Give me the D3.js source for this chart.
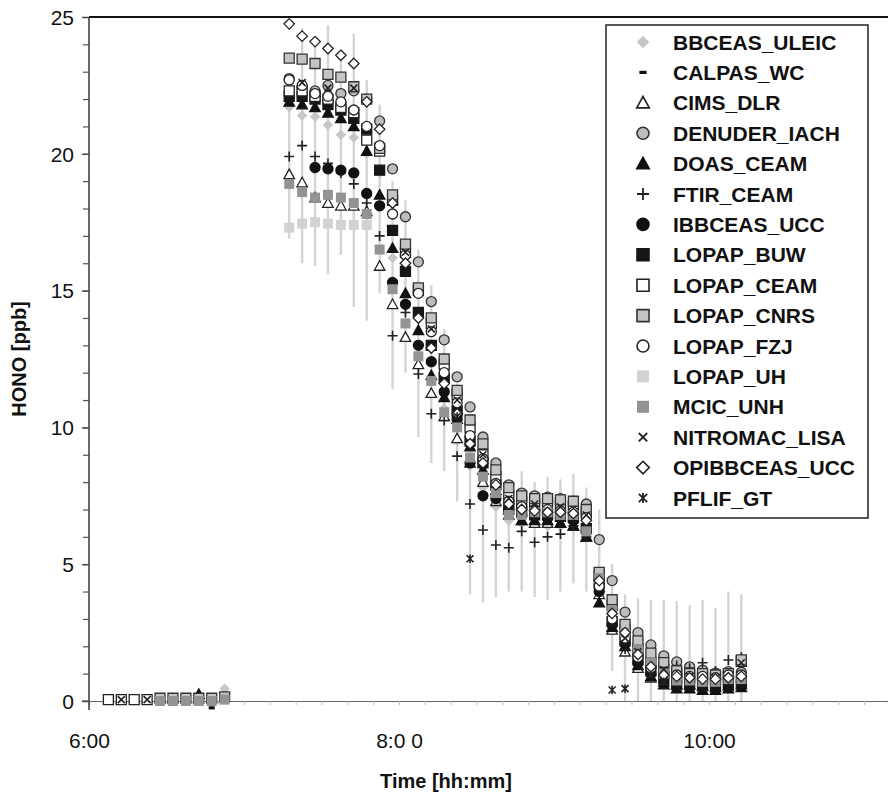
<!DOCTYPE html>
<html><head><meta charset="utf-8">
<script src="https://cdn.jsdelivr.net/npm/d3@7"></script>
<style>body{margin:0;background:#fff}svg{display:block}text{font-family:"Liberation Sans",Arial,Helvetica,sans-serif}</style>
</head><body><svg id="c" width="888" height="797"></svg>
<script>
// ---------- DATA ----------
const times = ["6:07:30","6:12:30","6:17:30","6:22:30","6:27:30","6:32:30","6:37:30","6:42:30","6:47:30","6:52:30",
"7:17:30","7:22:30","7:27:30","7:32:30","7:37:30","7:42:30","7:47:30","7:52:30","7:57:30","8:02:30",
"8:07:30","8:12:30","8:17:30","8:22:30","8:27:30","8:32:30","8:37:30","8:42:30","8:47:30","8:52:30",
"8:57:30","9:02:30","9:07:30","9:12:30","9:17:30","9:22:30","9:27:30","9:32:30","9:37:30","9:42:30",
"9:47:30","9:52:30","9:57:30","10:02:30","10:07:30","10:12:30"];
const N = null;
const seriesNames = ["BBCEAS_ULEIC","CALPAS_WC","CIMS_DLR","DENUDER_IACH","DOAS_CEAM","FTIR_CEAM","IBBCEAS_UCC","LOPAP_BUW","LOPAP_CEAM","LOPAP_CNRS","LOPAP_FZJ","LOPAP_UH","MCIC_UNH","NITROMAC_LISA","OPIBBCEAS_UCC","PFLIF_GT"];
const BBCEAS_ULEIC = [N,N,N,N,N,N,N,N,N,0.45,
 21.7,21.4,21.35,21.05,20.7,20.6,20.0,19.3,16.2,14.8,13.0,11.8,10.7,9.5,8.6,7.8,7.1,6.6,6.5,6.5,6.4,6.4,6.4,6.0,N,N,N,N,N,N,N,N,N,N,N,N];
const CALPAS_WC = [N,N,N,N,N,N,N,N,-0.25,N,
 N,N,N,N,N,N,N,N,N,N,N,N,N,N,N,N,N,N,N,N,N,N,N,N,4.1,N,2.4,N,0.75,N,0.7,N,0.5,N,0.9,N];
const CIMS_DLR = [N,N,N,N,N,N,N,N,N,N,
 19.25,18.95,18.4,18.2,18.1,18.1,17.9,15.9,14.5,13.3,12.3,11.25,10.4,9.6,8.7,8.0,7.3,6.8,6.6,6.5,6.5,6.5,6.4,6.0,3.9,2.6,1.8,1.2,0.85,0.7,0.6,0.6,0.55,0.5,0.55,0.6];
const DENUDER_IACH = [N,N,N,N,N,N,N,N,N,N,
 22.75,22.4,22.3,22.5,22.2,22.3,22.0,21.2,19.45,17.7,16.05,14.6,13.2,11.85,10.75,9.65,8.7,7.9,7.6,7.5,7.45,7.4,7.3,7.2,5.9,4.4,3.25,2.5,2.05,1.65,1.43,1.25,1.13,1.02,1.07,1.05];
const DOAS_CEAM = [N,N,N,N,N,N,N,0.25,N,N,
 21.9,21.8,21.7,21.5,21.3,21.0,20.1,18.5,16.55,14.9,13.55,11.9,11.1,10.3,9.3,8.45,7.7,7.0,6.6,6.6,6.6,6.5,6.4,6.0,3.6,2.7,2.0,1.3,0.9,0.6,0.45,0.45,0.4,0.4,0.45,0.5];
const FTIR_CEAM = [N,N,N,N,N,N,N,N,N,N,
 19.9,20.3,19.9,19.65,19.3,18.9,18.2,17.0,13.35,14.2,11.95,10.5,10.25,8.95,7.2,6.25,5.7,5.6,6.2,5.8,6.0,6.1,6.4,6.0,N,N,1.9,1.5,1.6,1.4,1.3,1.2,1.4,1.1,1.5,1.6];
const FTIR_low = [N,N,N,N,N,N,N,N,N,N,
 16.9,16.0,15.9,15.6,16.3,14.4,13.9,14.9,11.4,12.0,9.65,8.7,8.4,7.3,3.9,3.6,3.8,4.0,4.0,3.8,3.7,4.0,4.3,4.0,3.5,1.1,0,0,0,0,0,0,0,0,0,0];
const FTIR_high = [N,N,N,N,N,N,N,N,N,N,
 22.9,24.6,24.0,24.7,23.4,24.4,22.7,21.8,19.0,18.3,16.5,15.2,13.6,11.6,10.5,9.6,8.8,8.0,8.4,8.0,8.2,8.1,8.3,7.8,7.0,5.0,3.9,3.75,3.7,3.7,3.65,3.5,3.7,3.4,4.0,3.9];
const IBBCEAS_UCC = [N,N,N,N,N,N,N,N,N,N,
 N,N,19.5,19.45,19.4,19.3,18.55,18.1,15.3,14.5,13.0,12.4,11.3,10.3,8.7,7.5,7.4,7.0,6.8,6.8,6.7,6.7,6.6,6.2,4.0,2.8,2.1,1.4,1.0,0.85,0.7,0.7,0.65,0.6,0.6,0.7];
const LOPAP_BUW = [N,N,N,N,N,N,N,N,N,N,
 22.1,22.1,22.0,21.8,21.6,21.3,20.9,19.4,17.2,15.7,14.2,13.0,11.8,10.6,9.5,8.7,7.9,7.1,6.9,6.8,6.8,6.75,6.7,6.3,4.3,2.9,2.2,1.5,1.1,0.8,0.6,0.6,0.55,0.55,0.6,0.65];
const LOPAP_CEAM = [0.05,0.05,0.05,0.05,N,N,N,N,N,N,
 22.3,22.3,22.1,22.0,21.7,21.5,20.5,20.1,18.3,16.4,15.0,13.8,12.3,11.2,10.0,9.0,8.2,7.5,7.3,7.2,7.2,7.15,7.1,6.9,4.6,3.5,2.6,1.9,1.4,1.15,1.0,0.95,0.9,0.85,0.9,1.45];
const LOPAP_CNRS = [N,N,N,N,0.1,0.1,0.1,0.1,0.1,0.15,
 23.5,23.46,23.3,22.9,22.8,22.45,22.0,20.2,18.5,16.7,15.1,14.0,12.5,11.35,10.27,9.4,8.45,7.8,7.5,7.4,7.4,7.35,7.3,7.0,4.7,3.7,2.8,2.2,1.75,1.4,1.1,1.0,1.0,0.95,1.0,1.5];
const LOPAP_FZJ = [N,N,N,N,N,N,N,N,N,N,
 22.7,22.5,22.2,22.1,21.9,21.6,21.0,20.3,17.8,16.3,14.9,13.5,12.0,10.9,9.7,8.85,7.95,7.3,7.1,7.0,7.0,6.95,6.9,6.7,4.2,3.0,2.3,1.6,1.2,1.05,0.95,0.9,0.9,0.85,0.95,0.95];
const LOPAP_UH = [N,N,N,N,N,N,N,N,N,N,
 17.3,17.45,17.5,17.45,17.4,17.4,17.4,N,N,N,N,N,N,N,N,N,N,N,N,N,N,N,N,N,N,N,N,N,N,N,N,N,N,N,N,N];
const MCIC_UNH = [N,N,N,N,0.0,0.0,0.0,0.0,0.0,0.05,
 18.9,18.6,18.4,18.5,18.4,18.2,17.8,16.5,15.05,13.8,12.6,11.7,10.55,10.0,8.9,8.2,7.6,6.8,6.8,6.9,6.9,6.8,6.8,6.2,4.5,3.3,2.5,1.9,1.4,1.0,0.75,0.75,0.7,0.7,0.8,0.8];
const NITROMAC_LISA = [N,0.05,N,0.05,N,N,N,N,N,N,
 N,22.6,N,22.4,N,22.4,N,N,N,16.4,N,13.6,N,11.0,N,9.0,N,7.4,N,7.2,N,7.1,N,6.8,N,N,2.3,1.8,N,1.15,N,0.9,N,0.85,N,1.4];
const OPIBBCEAS_UCC = [N,N,N,N,N,N,N,N,N,N,
 24.75,24.3,24.1,23.85,23.6,23.3,21.9,20.9,18.2,16.0,14.0,12.9,11.6,10.5,9.4,8.7,7.9,7.2,7.0,6.95,6.9,6.9,6.85,6.6,4.4,3.2,2.5,1.7,1.25,0.95,0.9,0.85,0.8,0.8,0.85,0.9];
const PFLIF_GT = [N,N,N,N,N,N,N,N,N,N,
 N,N,N,N,N,N,N,N,N,N,N,N,N,10.4,5.2,N,N,N,N,N,N,N,N,N,N,0.4,0.45,N,0.95,0.7,N,N,N,N,N,N];
const yTicks = [0,5,10,15,20,25];
const xTickTimes = ["6:00","8:00","10:00"];
const xTickLabels = ["6:00","8:0 0","10:00"];
const xTitle = "Time [hh:mm]", yTitle = "HONO [ppb]";

// ---------- STYLE ----------
const styles = {
 BBCEAS_ULEIC:{shape:"diamond",fill:"#c6c6c6",stroke:"none"},
 CALPAS_WC:{shape:"dash",fill:"#111",stroke:"none"},
 CIMS_DLR:{shape:"triangle",fill:"#fff",stroke:"#222"},
 DENUDER_IACH:{shape:"circle",fill:"#bdbdbd",stroke:"#333"},
 DOAS_CEAM:{shape:"triangle",fill:"#111",stroke:"#111"},
 FTIR_CEAM:{shape:"plus",fill:"none",stroke:"#222"},
 IBBCEAS_UCC:{shape:"circle",fill:"#111",stroke:"#111"},
 LOPAP_BUW:{shape:"square",fill:"#161616",stroke:"#161616"},
 LOPAP_CEAM:{shape:"square",fill:"#fff",stroke:"#222"},
 LOPAP_CNRS:{shape:"square",fill:"#c4c4c4",stroke:"#333"},
 LOPAP_FZJ:{shape:"circle",fill:"#fff",stroke:"#222"},
 LOPAP_UH:{shape:"square",fill:"#d2d2d2",stroke:"none"},
 MCIC_UNH:{shape:"square",fill:"#939393",stroke:"none"},
 NITROMAC_LISA:{shape:"times",fill:"none",stroke:"#222"},
 OPIBBCEAS_UCC:{shape:"diamond",fill:"#fff",stroke:"#222"},
 PFLIF_GT:{shape:"asterisk",fill:"none",stroke:"#222"}
};
const dataMap = {BBCEAS_ULEIC,CALPAS_WC,CIMS_DLR,DENUDER_IACH,DOAS_CEAM,FTIR_CEAM,IBBCEAS_UCC,LOPAP_BUW,LOPAP_CEAM,LOPAP_CNRS,LOPAP_FZJ,LOPAP_UH,MCIC_UNH,NITROMAC_LISA,OPIBBCEAS_UCC,PFLIF_GT};

function shape(type, s){
  const h=s/2;
  switch(type){
    case "square": return `M${-h},${-h}h${s}v${s}h${-s}Z`;
    case "circle": return `M${h},0A${h},${h} 0 1,1 ${-h},0A${h},${h} 0 1,1 ${h},0Z`;
    case "triangle": return `M0,${-h*1.05}L${h*1.05},${h*0.85}L${-h*1.05},${h*0.85}Z`;
    case "diamond": return `M0,${-h*1.05}L${h*1.05},0L0,${h*1.05}L${-h*1.05},0Z`;
    case "dash": return `M${-h*0.6},-1.6h${s*0.6}v3.2h${-s*0.6}Z`;
    case "plus": return `M${-h},0H${h}M0,${-h}V${h}`;
    case "times": return `M${-h*0.7},${-h*0.7}L${h*0.7},${h*0.7}M${h*0.7},${-h*0.7}L${-h*0.7},${h*0.7}`;
    case "asterisk": return `M${-h*0.7},${-h*0.7}L${h*0.7},${h*0.7}M${h*0.7},${-h*0.7}L${-h*0.7},${h*0.7}M0,${-h*0.85}V${h*0.85}`;
  }
}

// ---------- CHART ----------
const svg = d3.select("#c");
const parse = d3.timeParse("%H:%M:%S"), parseHM = d3.timeParse("%H:%M");
const t = times.map(parse);
const x = d3.scaleTime().domain([parseHM("6:00"), parse("11:09:17")]).range([89, 888]);
const y = d3.scaleLinear().domain([0,25]).range([701,17]);

// error bars
const eb = svg.append("g");
t.forEach((d,i)=>{
  if(FTIR_low[i]==null) return;
  eb.append("line").attr("x1",x(d)).attr("x2",x(d)).attr("y1",y(FTIR_low[i])).attr("y2",y(FTIR_high[i]))
    .attr("stroke","#d4d4d4").attr("stroke-width",2.4);
});

// y axis minor ticks
const gyMinor = svg.append("g").attr("transform","translate(89,0)")
  .call(d3.axisLeft(y).tickValues(d3.range(0,26,1)).tickSize(6).tickFormat(""));
gyMinor.select(".domain").remove();
gyMinor.selectAll("line").attr("stroke","#555").attr("stroke-width",1.2);
const gy = svg.append("g").attr("transform","translate(89,0)")
  .call(d3.axisLeft(y).tickValues(yTicks).tickSize(7).tickPadding(8));
gy.select(".domain").remove();
gy.selectAll("line").attr("stroke","#444").attr("stroke-width",1.3);
gy.selectAll("text").attr("font-size",21).attr("fill","#111").attr("dy","0.35em");

// x axis
const gxMinor = svg.append("g").attr("transform",`translate(0,${y(0)})`)
  .call(d3.axisBottom(x).ticks(d3.timeMinute.every(10)).tickSize(4).tickFormat(""));
gxMinor.select(".domain").attr("stroke","#666").attr("stroke-width",1.2);
gxMinor.selectAll("line").attr("stroke","#bbb");
const gx = svg.append("g").attr("transform",`translate(0,${y(0)})`)
  .call(d3.axisBottom(x).tickValues(xTickTimes.map(parseHM)).tickSize(0).tickPadding(32)
     .tickFormat((d,i)=>xTickLabels[i]));
gx.select(".domain").remove();
gx.selectAll("text").attr("font-size",21).attr("fill","#111");
svg.append("line").attr("x1",82).attr("x2",89).attr("y1",y(0)).attr("y2",y(0)).attr("stroke","#555").attr("stroke-width",1.2);

// frame: left axis line and top line
svg.append("line").attr("x1",89).attr("x2",89).attr("y1",y(25)).attr("y2",y(0)+9).attr("stroke","#444").attr("stroke-width",1.6);
svg.append("line").attr("x1",89).attr("x2",888).attr("y1",y(25)).attr("y2",y(25)).attr("stroke","#111").attr("stroke-width",2);

// markers
const MS = 10;
seriesNames.forEach(name=>{
  const st = styles[name], vals = dataMap[name];
  const g = svg.append("g");
  g.selectAll("path").data(t.map((d,i)=>({d, v:vals[i]})).filter(p=>p.v!=null)).join("path")
    .attr("transform",p=>`translate(${x(p.d)},${y(p.v)})`)
    .attr("d",shape(st.shape, MS))
    .attr("fill",st.fill).attr("stroke",st.stroke)
    .attr("stroke-width", (st.shape==="plus"||st.shape==="times"||st.shape==="asterisk")?1.6:1.3);
});

// titles
svg.append("text").attr("x",446).attr("y",788).attr("text-anchor","middle").attr("font-size",20).attr("font-weight","bold").attr("fill","#111").text(xTitle);
svg.append("text").attr("transform","translate(26,359) rotate(-90)").attr("text-anchor","middle").attr("font-size",20).attr("font-weight","bold").attr("fill","#111").text(yTitle);

// legend
const lg = svg.append("g");
lg.append("rect").attr("x",606).attr("y",25).attr("width",262).attr("height",493).attr("fill","#fff").attr("stroke","#222").attr("stroke-width",1.5);
seriesNames.forEach((name,i)=>{
  const st = styles[name], cy = 42 + i*30.4;
  lg.append("path").attr("transform",`translate(643,${cy})`).attr("d",shape(st.shape, 12))
    .attr("fill",st.fill).attr("stroke",st.stroke)
    .attr("stroke-width",(st.shape==="plus"||st.shape==="times"||st.shape==="asterisk")?1.8:1.6);
  lg.append("text").attr("x",673).attr("y",cy).attr("dy","0.36em").attr("font-size",21).attr("font-weight","bold").attr("fill","#111").text(name);
});
</script></body></html>
